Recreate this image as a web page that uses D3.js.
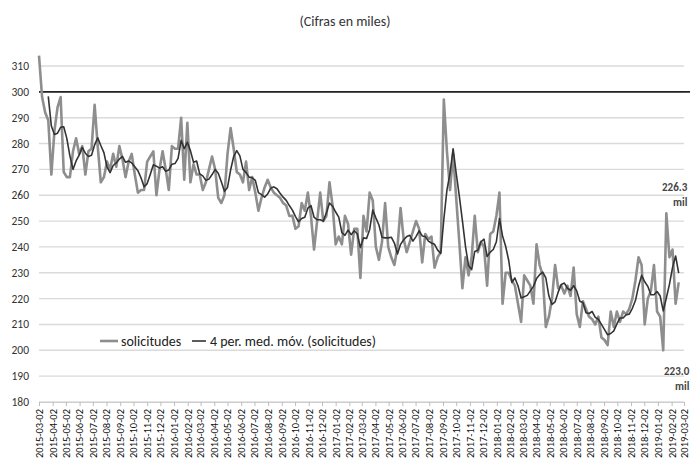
<!DOCTYPE html>
<html><head><meta charset="utf-8">
<script src="https://cdn.jsdelivr.net/npm/d3@7"></script>
<style>
html,body{margin:0;padding:0;background:#fff;overflow:hidden;}
svg{display:block;}
</style></head>
<body>
<svg id="chart" width="690" height="466"></svg>
<script>
// ---- data ----
const title = "(Cifras en miles)";
const startDate = "2015-03-02";
const endDate = "2019-03-02";
const solicitudes = [
 314,298,292,289,268,285,294,298,269,267,
 267,277,282,276,279,268,277,278,295,279,
 265,267,273,270,276,271,279,274,267,273,
 276,268,261,262,262,273,275,277,260,270,
 277,270,262,279,278,278,290,266,288,265,
 272,268,268,262,265,270,275,270,259,257,
 260,276,286,278,269,268,265,273,262,267,
 261,254,259,263,266,263,261,260,259,257,
 256,252,252,247,248,257,254,261,252,239,
 250,261,250,252,265,256,241,244,241,252,
 249,237,247,247,228,252,246,261,258,240,
 235,242,257,240,236,233,240,255,243,238,
 242,246,250,247,234,245,243,244,232,236,
 238,297,277,262,276,259,242,224,236,229,
 236,252,238,242,240,225,245,246,252,261,
 218,230,230,227,225,218,211,229,227,225,
 218,241,233,229,209,213,220,233,224,225,
 222,225,221,232,214,209,219,216,213,212,
 210,213,205,204,202,215,209,215,211,215,
 214,216,220,227,236,233,210,220,223,233,
 215,213,200,253,236,239,218,226.3
];
const refValue = 300;
const maPeriod = 4;
const yTicks = [180,190,200,210,220,230,240,250,260,270,280,290,300,310];
const legendLabels = ["solicitudes","4 per. med. móv. (solicitudes)"];
const endLabels = [{v:"226.3", u:"mil"},{v:"223.0", u:"mil"}];

// ---- scales ----
const parse = d3.timeParse("%Y-%m-%d");
const fmt = d3.timeFormat("%Y-%m-%d");
const t0 = parse(startDate), t1 = parse(endDate);
const dates = solicitudes.map((_, i) => d3.timeDay.offset(t0, 7 * i));
const x = d3.scaleTime().domain([t0, t1]).range([39, 684]);
const y = d3.scaleLinear().domain([180, 310]).range([402, 66]);
const monthTicks = d3.timeMonth.range(d3.timeMonth.floor(t0), d3.timeDay.offset(t1, 1))
  .map(d => d3.timeDay.offset(d, 1));

const svg = d3.select("#chart");
const FONT = "Carlito, Lato, 'Open Sans', sans-serif";

// title
svg.append("text").attr("x", 345).attr("y", 26).attr("text-anchor", "middle")
  .attr("font-family", FONT).attr("font-size", 14).attr("fill", "#333").text(title);

// grid
svg.append("g").selectAll("line").data(yTicks).join("line")
  .attr("x1", 39).attr("x2", 684).attr("y1", d => y(d)).attr("y2", d => y(d))
  .attr("stroke", "#dadada").attr("stroke-width", 1.4);

// y labels
svg.append("g").selectAll("text").data(yTicks).join("text")
  .attr("x", 29).attr("y", d => y(d) + 4).attr("text-anchor", "end")
  .attr("font-family", FONT).attr("font-size", 11.5).attr("fill", "#333").text(d => d);

// x axis
const xAxis = d3.axisBottom(x).tickValues(monthTicks).tickFormat(fmt).tickSize(4).tickSizeOuter(0);
const gx = svg.append("g").attr("transform", "translate(0,402)").call(xAxis);
gx.select(".domain").attr("stroke", "#cfcfcf");
gx.selectAll(".tick line").attr("stroke", "#bdbdbd");
gx.selectAll(".tick text")
  .attr("font-family", FONT).attr("font-size", 10.5).attr("fill", "#111")
  .attr("transform", "rotate(-90)").attr("text-anchor", "end")
  .attr("x", -7).attr("y", 0).attr("dy", "0.32em");

// reference line at 300
svg.append("line").attr("x1", 39).attr("x2", 690).attr("y1", y(refValue)).attr("y2", y(refValue))
  .attr("stroke", "#222").attr("stroke-width", 1.6);

// raw series
const series = solicitudes.map((v, i) => ({d: dates[i], v}));
const line = d3.line().x(p => x(p.d)).y(p => y(p.v));
svg.append("path").datum(series).attr("d", line)
  .attr("fill", "none").attr("stroke", "#8e8e8e").attr("stroke-width", 2.6).attr("stroke-linejoin", "round");

// moving average
const ma = series.slice(maPeriod - 1).map((p, k) => ({d: p.d, v: d3.mean(solicitudes.slice(k, k + maPeriod))}));
svg.append("path").datum(ma).attr("d", line)
  .attr("fill", "none").attr("stroke", "#333").attr("stroke-width", 1.6).attr("stroke-linejoin", "round");

// legend
const lg = svg.append("g").attr("font-family", FONT).attr("font-size", 14).attr("fill", "#222");
lg.append("line").attr("x1", 100).attr("x2", 118).attr("y1", 341).attr("y2", 341).attr("stroke", "#8e8e8e").attr("stroke-width", 2.6);
lg.append("text").attr("x", 121).attr("y", 346).text(legendLabels[0]);
lg.append("line").attr("x1", 192).attr("x2", 206).attr("y1", 341).attr("y2", 341).attr("stroke", "#333").attr("stroke-width", 1.6);
lg.append("text").attr("x", 210).attr("y", 346).text(legendLabels[1]);

// end labels
const el = svg.append("g").attr("font-family", FONT).attr("font-size", 11).attr("font-weight", "bold").attr("fill", "#444");
el.append("text").attr("x", 662).attr("y", 191).text(endLabels[0].v);
el.append("text").attr("x", 673).attr("y", 206).text(endLabels[0].u);
el.append("text").attr("x", 664).attr("y", 375).text(endLabels[1].v);
el.append("text").attr("x", 675).attr("y", 390).text(endLabels[1].u);
</script>
</body></html>
